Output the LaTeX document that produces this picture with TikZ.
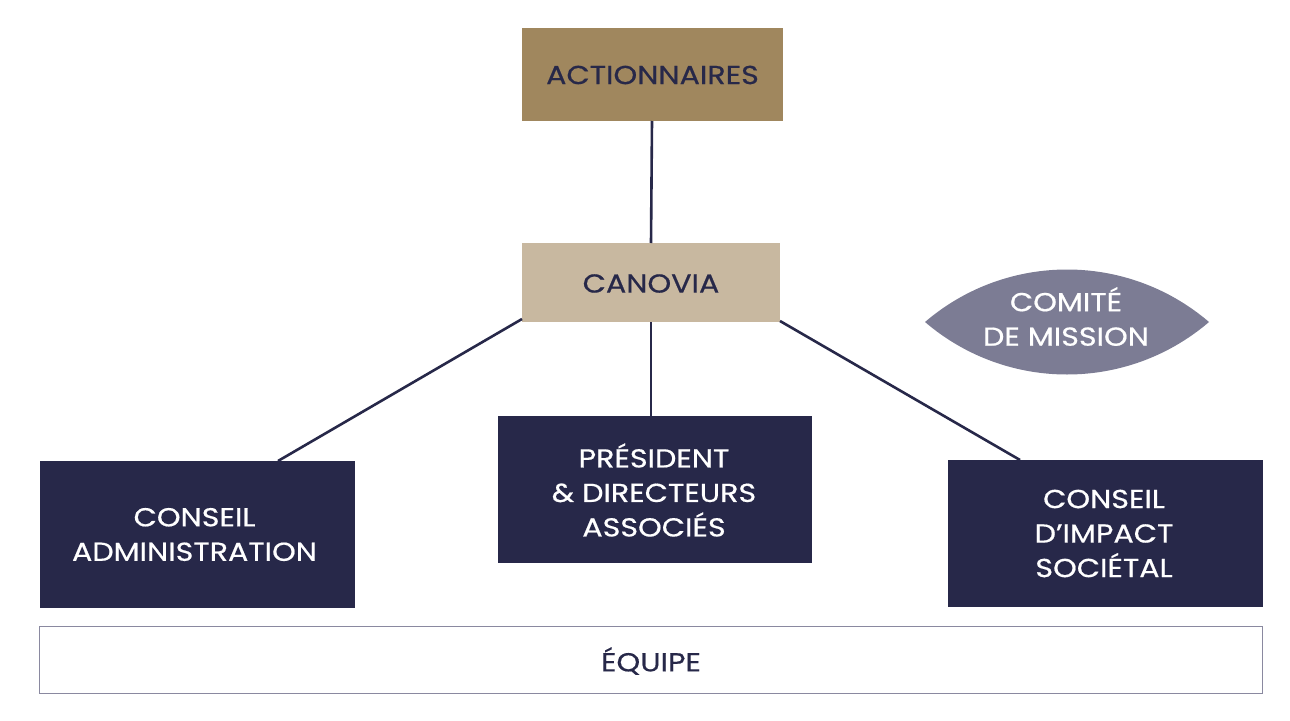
\documentclass[tikz,border=0pt]{standalone}
\usepackage{fontspec}
\setmainfont{Poppins}[FakeStretch=1.16, FakeBold=0.6]
\definecolor{navy}{HTML}{272849}
\definecolor{gold}{HTML}{A0875E}
\definecolor{sand}{HTML}{C8B8A0}
\definecolor{lens}{HTML}{7C7C94}
\definecolor{edgegray}{HTML}{8A89A0}
\tikzset{
  lbl/.style={font=\fontsize{26}{34.5}\selectfont, align=center},
  linkline/.style={draw=navy, line width=2.6pt},
}
\begin{document}
\begin{tikzpicture}[x=1pt,y=-1pt]
\useasboundingbox (0,0) rectangle (1290,720);
% boxes
\fill[gold] (522,28) rectangle (783,121);
\fill[sand] (522,243) rectangle (780,322);
\fill[navy] (40,461) rectangle (355,608);
\fill[navy] (498,416) rectangle (812,563);
\fill[navy] (948,460) rectangle (1263,607);
\draw[edgegray, line width=1.4pt, fill=white] (39.5,626.5) rectangle (1262.5,693.5);
% lens
\fill[lens] (925,322) .. controls (1006.7,252) and (1127.3,252) .. (1209,322)
  .. controls (1127.3,392) and (1006.7,392) .. (925,322) -- cycle;
% nodes
\node[lbl, text=navy] (act) at (652.5,75) {ACTIONNAIRES};
\node[lbl, text=navy] (can) at (651,283.5) {CANOVIA};
\node[lbl, text=white] (ca) at (194.5,534.5) {CONSEIL\\ADMINISTRATION};
\node[lbl, text=white] (pres) at (654,490) {PRÉSIDENT\\\& DIRECTEURS\\ASSOCIÉS};
\node[lbl, text=white] (cis) at (1104,533.5) {CONSEIL\\D’IMPACT\\SOCIÉTAL};
\node[lbl, text=white] (mission) at (1066,316.5) {COMITÉ\\DE MISSION};
\node[lbl, text=navy] (eq) at (651,661) {ÉQUIPE};
% anchors for links
\coordinate (actB) at (652,121);
\coordinate (canT) at (651,243);
\coordinate (canB) at (651,322);
\coordinate (canBL) at (522,319);
\coordinate (canBR) at (780,321);
\coordinate (presT) at (651,416);
\coordinate (caT) at (278,461);
\coordinate (cisT) at (1020,460);
\draw[linkline] (actB) -- (canT);
\draw[linkline] (canB) -- (presT);
\draw[linkline] (canBL) -- (caT);
\draw[linkline] (canBR) -- (cisT);
\end{tikzpicture}
\end{document}
